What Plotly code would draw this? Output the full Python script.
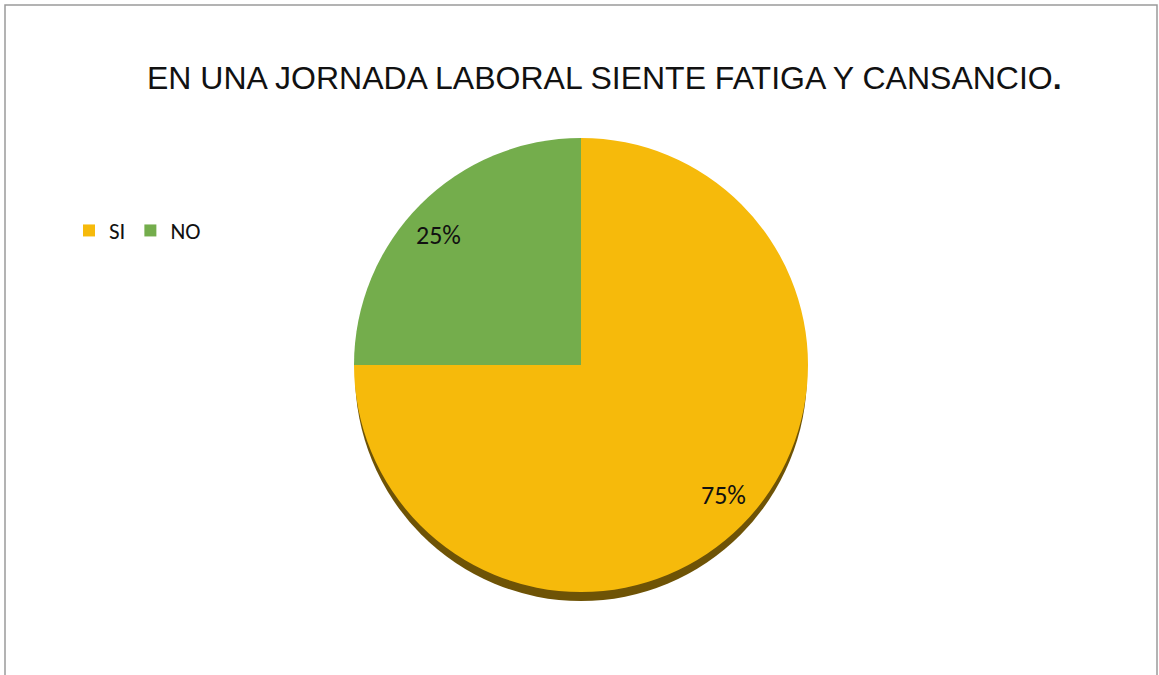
import math
import plotly.graph_objects as go

# ---- data ----
categories = ["SI", "NO"]
values = [75, 25]
colors = ["#F6BA0B", "#74AD4C"]
title_text = "EN UNA JORNADA LABORAL SIENTE FATIGA Y CANSANCIO<b>.</b>"

W, H = 1159, 675
cx, cy, R = 581, 365, 227  # pixel centre / radius of the pie

dom_x = [(cx - R) / W, (cx + R) / W]
dom_y = [(H - cy - R) / H, (H - cy + R) / H]

fig = go.Figure(
    go.Pie(
        labels=categories,
        values=values,
        sort=False,
        direction="clockwise",
        rotation=0,
        marker=dict(colors=colors, line=dict(width=0)),
        textinfo="none",
        hoverinfo="label+percent",
        domain=dict(x=dom_x, y=dom_y),
    )
)

# percentage labels placed at each slice's mid-angle
total = sum(values)
start = 0.0
annotations = []
for v in values:
    frac = v / total
    mid = (start + frac / 2) * 2 * math.pi  # clockwise from 12 o'clock
    px = cx + 0.89 * R * math.sin(mid)
    py = cy - 0.81 * R * math.cos(mid)
    annotations.append(
        dict(
            x=px / W, y=1 - py / H, xref="paper", yref="paper",
            xanchor="center", yanchor="middle",
            text=f"{round(frac * 100)}%", showarrow=False,
            font=dict(family="Carlito, Calibri, Lato, sans-serif", size=26, color="#111111"),
        )
    )
    start += frac

annotations.append(
    dict(
        x=604 / W, y=1 - 78 / H, xref="paper", yref="paper",
        text=title_text, showarrow=False, xanchor="center", yanchor="middle",
        font=dict(family="Liberation Sans, Arial, sans-serif", size=32, color="#111111"),
    )
)

shapes = [
    # 3D rim / shadow under the pie
    dict(
        type="circle", xref="paper", yref="paper", layer="below",
        x0=(cx - R + 1) / W, x1=(cx + R - 1) / W,
        y0=(H - cy - R - 9) / H, y1=(H - cy + R - 9) / H,
        fillcolor="#6E5306", line=dict(width=0),
    ),
    # chart border
    dict(
        type="rect", xref="paper", yref="paper", layer="above",
        x0=5 / W, x1=1157 / W, y0=-0.05, y1=(H - 5) / H,
        line=dict(color="#9A9A9A", width=1.5), fillcolor="rgba(0,0,0,0)",
    ),
]

fig.update_layout(
    width=W, height=H,
    margin=dict(l=0, r=0, t=0, b=0),
    paper_bgcolor="white",
    plot_bgcolor="white",
    showlegend=True,
    legend=dict(
        orientation="h", x=69 / W, y=1 - 209 / H, xanchor="left", yanchor="top",
        font=dict(family="Carlito, Calibri, Lato, sans-serif", size=23, color="#111111"),
        itemwidth=30, tracegroupgap=0, bgcolor="rgba(0,0,0,0)",
    ),
    annotations=annotations,
    shapes=shapes,
)

fig.write_html(
    "out.html",
    config={"displayModeBar": False},
    post_script="document.body.style.margin='0';document.body.style.overflow='hidden';",
)
